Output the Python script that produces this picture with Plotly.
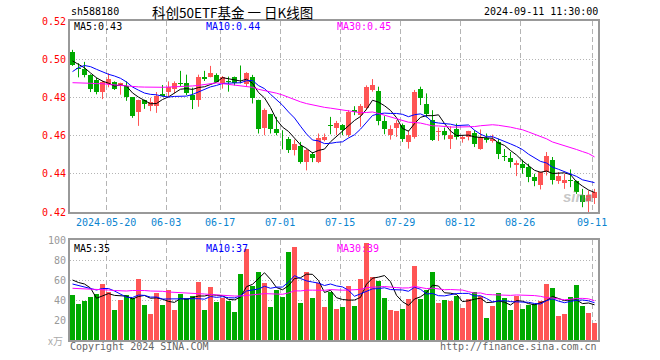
import plotly.graph_objects as go
import pandas as pd

# ---------------- data ----------------
holidays = ["2024-06-10"]
dates = [d.strftime("%Y-%m-%d") for d in pd.bdate_range("2024-05-10", "2024-09-11")
         if d.strftime("%Y-%m-%d") not in holidays]

opens = [0.5039, 0.4955, 0.4951, 0.4919, 0.4891, 0.4830, 0.4872, 0.4879, 0.4860, 0.4861,
         0.4800, 0.4725, 0.4786, 0.4756, 0.4756, 0.4818, 0.4830, 0.4846, 0.4875, 0.4875,
         0.4811, 0.4786, 0.4905, 0.4909, 0.4919, 0.4874, 0.4884, 0.4905, 0.4893, 0.4868,
         0.4909, 0.4786, 0.4642, 0.4712, 0.4637, 0.4604, 0.4584, 0.4523, 0.4544, 0.4461,
         0.4502, 0.4461, 0.4575, 0.4654, 0.4642, 0.4654, 0.4602, 0.4733, 0.4707, 0.4742,
         0.4839, 0.4833, 0.4675, 0.4602, 0.4642, 0.4654, 0.4567, 0.4593, 0.4844, 0.4765,
         0.4684, 0.4618, 0.4623, 0.4582, 0.4633, 0.4581, 0.4593, 0.4614, 0.4532, 0.4589,
         0.4570, 0.4567, 0.4490, 0.4482, 0.4446, 0.4449, 0.4435, 0.4382, 0.4339, 0.4409,
         0.4470, 0.4361, 0.4351, 0.4370, 0.4360, 0.4291, 0.4256, 0.4274]
highs = [0.5049, 0.4979, 0.4986, 0.4921, 0.4904, 0.4888, 0.4926, 0.4884, 0.4877, 0.4884,
         0.4802, 0.4788, 0.4788, 0.4798, 0.4828, 0.4865, 0.4884, 0.4884, 0.4939, 0.4919,
         0.4851, 0.4919, 0.4939, 0.4965, 0.4926, 0.4912, 0.4909, 0.4909, 0.4967, 0.4932,
         0.4918, 0.4788, 0.4742, 0.4714, 0.4698, 0.4628, 0.4593, 0.4579, 0.4567, 0.4532,
         0.4514, 0.4611, 0.4611, 0.4698, 0.4677, 0.4660, 0.4733, 0.4754, 0.4765, 0.4863,
         0.4896, 0.4856, 0.4702, 0.4654, 0.4681, 0.4663, 0.4628, 0.4839, 0.4856, 0.4821,
         0.4733, 0.4642, 0.4642, 0.4649, 0.4663, 0.4602, 0.4625, 0.4628, 0.4632, 0.4611,
         0.4605, 0.4584, 0.4530, 0.4514, 0.4470, 0.4474, 0.4453, 0.4400, 0.4412, 0.4514,
         0.4488, 0.4409, 0.4400, 0.4423, 0.4365, 0.4321, 0.4312, 0.4321]
lows = [0.4965, 0.4905, 0.4905, 0.4828, 0.4816, 0.4791, 0.4853, 0.4839, 0.4814, 0.4782,
        0.4693, 0.4651, 0.4740, 0.4728, 0.4719, 0.4804, 0.4804, 0.4821, 0.4860, 0.4812,
        0.4739, 0.4751, 0.4886, 0.4905, 0.4879, 0.4846, 0.4830, 0.4863, 0.4874, 0.4856,
        0.4768, 0.4611, 0.4602, 0.4611, 0.4602, 0.4528, 0.4509, 0.4496, 0.4453, 0.4418,
        0.4461, 0.4456, 0.4570, 0.4607, 0.4602, 0.4602, 0.4593, 0.4707, 0.4646, 0.4733,
        0.4830, 0.4654, 0.4607, 0.4579, 0.4593, 0.4567, 0.4532, 0.4584, 0.4760, 0.4695,
        0.4572, 0.4572, 0.4579, 0.4530, 0.4579, 0.4563, 0.4575, 0.4540, 0.4526, 0.4563,
        0.4563, 0.4477, 0.4467, 0.4432, 0.4388, 0.4400, 0.4356, 0.4335, 0.4318, 0.4391,
        0.4344, 0.4347, 0.4321, 0.4330, 0.4295, 0.4225, 0.4198, 0.4242]
closes = [0.4968, 0.4950, 0.4919, 0.4846, 0.4830, 0.4881, 0.4896, 0.4844, 0.4875, 0.4800,
          0.4702, 0.4786, 0.4768, 0.4777, 0.4807, 0.4807, 0.4854, 0.4875, 0.4872, 0.4821,
          0.4786, 0.4905, 0.4895, 0.4930, 0.4882, 0.4905, 0.4879, 0.4874, 0.4889, 0.4930,
          0.4798, 0.4637, 0.4733, 0.4637, 0.4614, 0.4602, 0.4523, 0.4558, 0.4460, 0.4523,
          0.4482, 0.4589, 0.4593, 0.4651, 0.4667, 0.4628, 0.4725, 0.4725, 0.4756, 0.4856,
          0.4863, 0.4675, 0.4632, 0.4633, 0.4667, 0.4581, 0.4602, 0.4830, 0.4798, 0.4712,
          0.4579, 0.4625, 0.4602, 0.4602, 0.4593, 0.4593, 0.4623, 0.4554, 0.4593, 0.4575,
          0.4584, 0.4502, 0.4488, 0.4461, 0.4458, 0.4430, 0.4382, 0.4361, 0.4409, 0.4491,
          0.4365, 0.4391, 0.4370, 0.4361, 0.4304, 0.4251, 0.4291, 0.4304]
volumes = [45, 35.7, 39.3, 42.7, 46, 56, 48.3, 30, 40, 45,
           41.7, 61, 35, 26, 47, 35, 50, 30, 46, 41.7,
           44, 58.3, 30, 53, 38.3, 42.3, 39.3, 28, 66, 91,
           54, 68, 57.3, 33, 50, 43, 88, 93.3, 37, 68,
           42, 57.3, 33.3, 48, 31, 33, 54, 34, 61, 97,
           63, 59.3, 42, 30, 29, 31, 41, 74, 41, 50,
           68, 37, 40, 39, 44, 32, 41, 48, 44, 22,
           34, 47, 42, 30, 44, 31, 35, 36, 39, 56,
           52, 24, 26, 43, 55, 34, 27, 17]

# moving-average values before enough in-window history exists
ma5_head = [0.4991, 0.4975, 0.4955, 0.4928]
ma10_head = [0.4935, 0.4956, 0.4967, 0.4961, 0.4947, 0.4932, 0.4921, 0.4912, 0.4900]
ma30_head = [0.4877, 0.4877, 0.4874, 0.4874, 0.4872, 0.4872, 0.4868, 0.4865, 0.4862, 0.4860,
             0.4856, 0.4855, 0.4854, 0.4853, 0.4853, 0.4853, 0.4854, 0.4855, 0.4856, 0.4858,
             0.4860, 0.4863, 0.4867, 0.4872, 0.4876, 0.4872, 0.4868, 0.4864, 0.4862]
vma5_head = [60, 57.5, 56, 52]
vma10_head = [56, 54.5, 53, 52, 50, 51.5, 51.5, 49, 46]
vma30_head = [51.7, 51.5, 51, 50.7, 50.5, 50.2, 50, 49.5, 49, 49,
              49.5, 49.7, 49.5, 49, 49, 48.7, 48, 47.7, 47.5, 47.5,
              47, 46.7, 46, 45.5, 45, 44.5, 44.2, 44, 44]

tick_dates = ["2024-05-20", "2024-06-03", "2024-06-17", "2024-07-01", "2024-07-15",
              "2024-07-29", "2024-08-12", "2024-08-26", "2024-09-11"]
tick_labels = ["2024-05-20", "06-03", "06-17", "07-01", "07-15", "07-29", "08-12", "08-26", "09-11"]
price_ticks = [0.42, 0.44, 0.46, 0.48, 0.50, 0.52]
vol_ticks = [20, 40, 60, 80, 100]

# ---------------- derived ----------------
n = len(dates)
idx = list(range(n))


def moving(vals, w, head):
    s = pd.Series(vals).rolling(w).mean().tolist()
    return head + s[len(head):]


ma5 = moving(closes, 5, ma5_head)
ma10 = moving(closes, 10, ma10_head)
ma30 = moving(closes, 30, ma30_head)
vma5 = moving(volumes, 5, vma5_head)
vma10 = moving(volumes, 10, vma10_head)
vma30 = moving(volumes, 30, vma30_head)

UP = "#ff5555"
DOWN = "#00aa00"
colors = [UP if c >= o else DOWN for o, c in zip(opens, closes)]
bases = [min(o, c) for o, c in zip(opens, closes)]
heights = [max(abs(c - o), 0.00035) for o, c in zip(opens, closes)]

MONO = "DejaVu Sans Mono"
GRID = "#b4b4b4"

fig = go.Figure()

# wicks
for col in (UP, DOWN):
    wx, wy = [], []
    for i in idx:
        if colors[i] == col:
            wx += [i, i, None]
            wy += [lows[i], highs[i], None]
    fig.add_trace(go.Scatter(x=wx, y=wy, mode="lines", line=dict(color=col, width=1),
                             xaxis="x", yaxis="y", hoverinfo="skip"))

# bodies
fig.add_trace(go.Bar(x=idx, y=heights, base=bases, width=0.83, marker_color=colors,
                     marker_line_width=0, xaxis="x", yaxis="y"))

# price MAs
for vals, col in ((ma5, "#000000"), (ma10, "#0000ff"), (ma30, "#ff00ff")):
    fig.add_trace(go.Scatter(x=idx, y=vals, mode="lines", line=dict(color=col, width=1),
                             xaxis="x", yaxis="y"))

# volume
fig.add_trace(go.Bar(x=idx, y=volumes, width=0.83, marker_color=colors,
                     marker_line_width=0, xaxis="x2", yaxis="y2"))
for vals, col in ((vma5, "#000000"), (vma10, "#0000ff"), (vma30, "#ff00ff")):
    fig.add_trace(go.Scatter(x=idx, y=vals, mode="lines", line=dict(color=col, width=1),
                             xaxis="x2", yaxis="y2"))

L, R, T, B = 70, 598, 21, 340
W, H = 660, 360
xr = [-0.4167, n - 0.4167]
tickpos = [dates.index(d) - 0.4 for d in tick_dates]

main_bottom = 212
vol_top = 240


def py(y):
    return (B - y) / (B - T)


def px(x):
    return (x - L) / (R - L)


axis_common = dict(showline=True, linecolor="#999999", linewidth=2, mirror=True,
                   zeroline=False, ticks="", fixedrange=True)

fig.update_layout(
    width=W, height=H, autosize=False,
    margin=dict(l=L, r=W - R, t=T, b=H - B, pad=0),
    paper_bgcolor="white", plot_bgcolor="white",
    showlegend=False, hovermode=False, bargap=0, barmode="overlay",
    xaxis=dict(domain=[0, 1], range=xr, anchor="y", tickvals=tickpos, ticktext=tick_labels,
               showgrid=True, gridcolor=GRID, griddash="5px,3px", gridwidth=1,
               tickfont=dict(family=MONO, size=10, color="#0a84d0"), **axis_common),
    yaxis=dict(domain=[py(main_bottom), 1], range=[0.42, 0.52], anchor="x",
               tickvals=price_ticks, ticktext=[f"{v:.2f}" for v in price_ticks],
               showgrid=True, gridcolor=GRID, griddash="1px,2px", gridwidth=1,
               tickfont=dict(family=MONO, size=10, color="#ff0000"), **axis_common),
    xaxis2=dict(domain=[0, 1], range=xr, anchor="y2", tickvals=tickpos, showticklabels=False,
                showgrid=True, gridcolor=GRID, griddash="5px,3px", gridwidth=1, **axis_common),
    yaxis2=dict(domain=[0, py(vol_top)], range=[0, 100], anchor="x2",
                tickvals=vol_ticks, ticktext=[str(v) for v in vol_ticks],
                showgrid=True, gridcolor=GRID, griddash="1px,2px", gridwidth=1,
                tickfont=dict(family=MONO, size=10, color="#999999"), **axis_common),
)

anns = []


def ann(x, y, text, color, size=10, family=MONO, anchor="left"):
    anns.append(dict(x=px(x), y=py(y), xref="paper", yref="paper", text=text,
                     showarrow=False, xanchor=anchor, yanchor="middle",
                     font=dict(family=family, size=size, color=color), borderpad=0))


ann(70, 12, "sh588180", "#000000")
ann(151, 11.5, "科创50ETF基金 一 日K线图", "#000000", size=13.5, family="Noto Sans CJK SC")
ann(599, 12, "2024-09-11 11:30:00", "#000000", anchor="right")

ann(73, 27, f"MA5:{ma5[-1]:.2f}", "#000000")
ann(205, 27, f"MA10:{ma10[-1]:.2f}", "#0000ff")
ann(336, 27, f"MA30:{ma30[-1]:.2f}", "#ff00ff")

ann(73, 248, f"MA5:{vma5[-1]:.0f}", "#000000")
ann(205, 248, f"MA10:{vma10[-1]:.0f}", "#0000ff")
ann(336, 248, f"MA30:{vma30[-1]:.0f}", "#ff00ff")

ann(64, 340, "x万", "#aaaaaa", size=10, family="Noto Sans CJK SC", anchor="right")
ann(69, 346, "Copyright 2024 SINA.COM", "#666666")
ann(598, 346, "http://finance.sina.com.cn", "#666666", anchor="right")
ann(578, 196, "<b><i>sina</i></b>", "rgba(150,150,150,0.55)", size=15, family="Liberation Sans",
    anchor="center")

fig.update_layout(annotations=anns)

fig.write_html("out.html", config={"displayModeBar": False, "staticPlot": True},
               post_script="document.body.style.margin='0';document.body.style.padding='0';")
